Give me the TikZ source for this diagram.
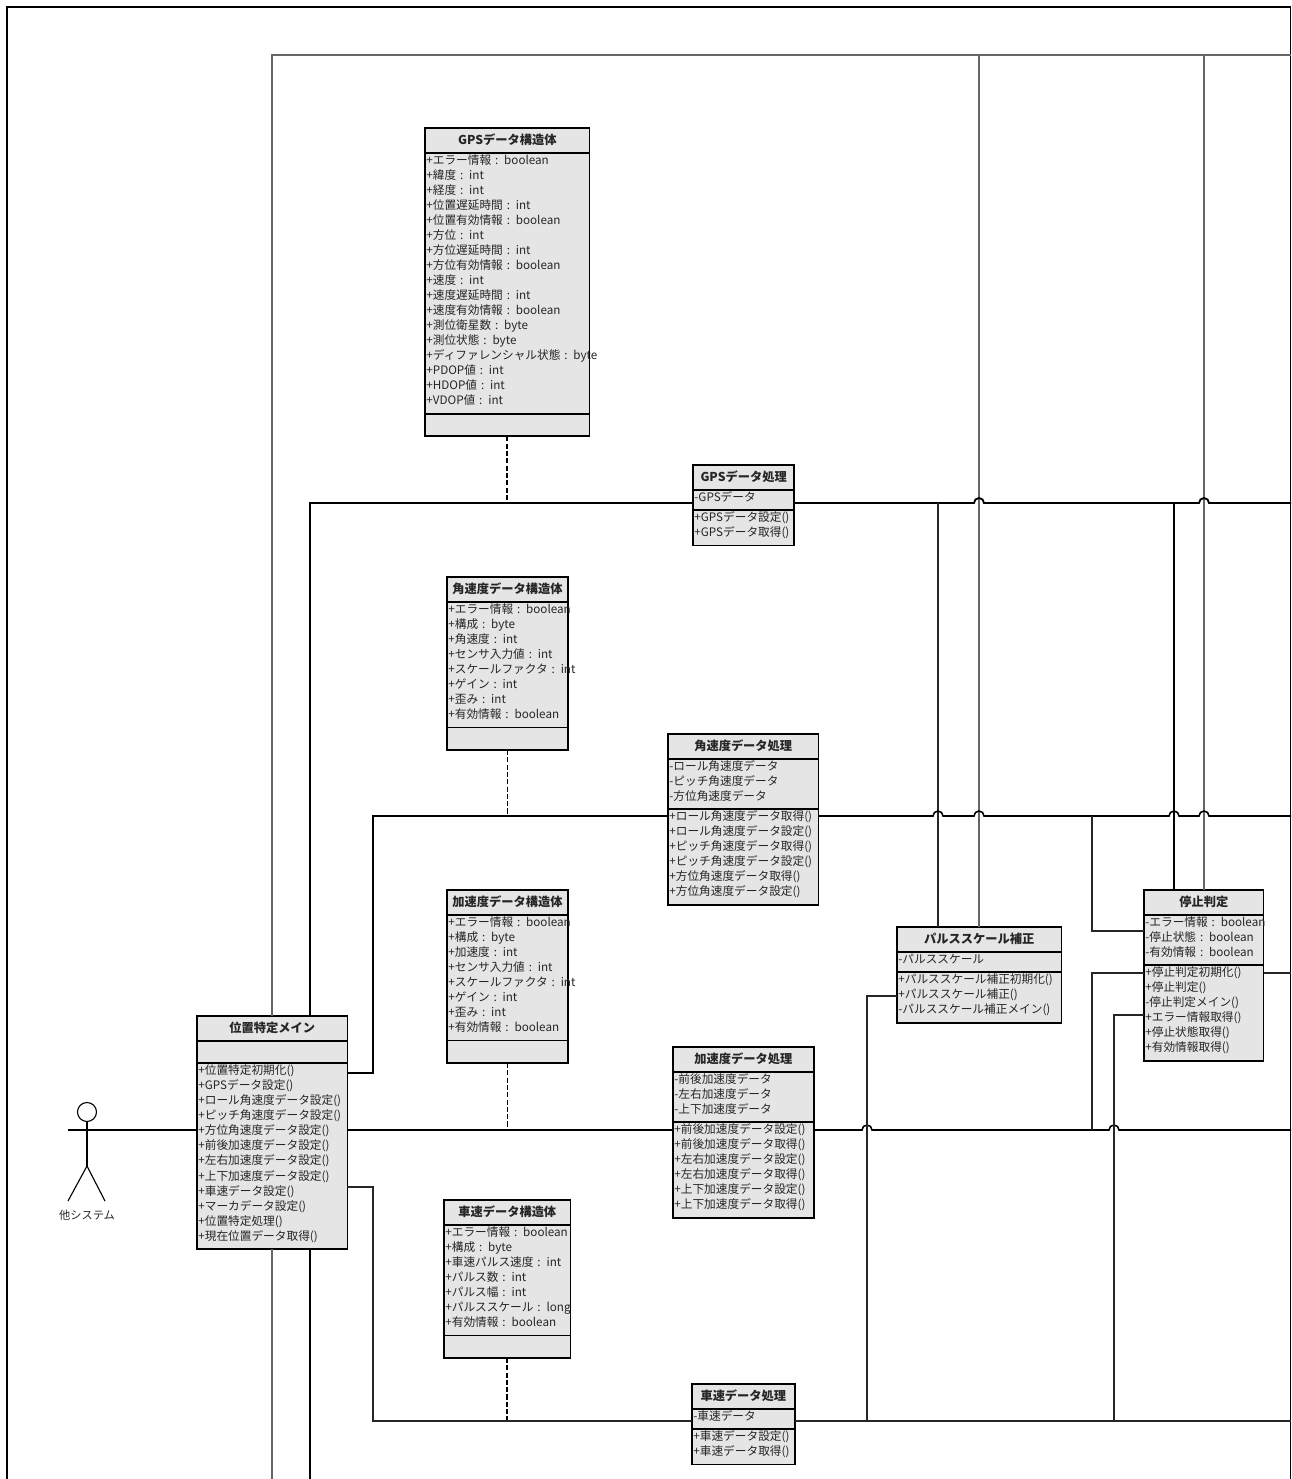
\documentclass[tikz,border=0pt]{standalone}
\usepackage{fontspec}
\setmainfont{Noto Sans CJK JP}
\usetikzlibrary{positioning,shapes.multipart}
\newcommand{\classtitle}[1]{\rule[-5.4pt]{0pt}{16.3pt}\hspace*{\fill}{\fontsize{8.7}{10.7}\selectfont\bfseries #1}\hspace*{\fill}}
\newcommand{\classempty}{\rule{0pt}{14.7pt}}
\newcommand{\rowend}{\rule[-5.7pt]{0pt}{1pt}}
\newcommand{\longrow}[1]{\makebox[0pt][l]{#1}}
\tikzset{
  umlclass/.style={draw=black,line width=1.3pt,fill=black!10,text=black!85,rectangle split,rectangle split parts=3,anchor=north west,align=left,inner xsep=1pt,inner ysep=0pt,outer sep=0pt,font=\fontsize{8.3}{10.7}\selectfont},
  actorline/.style={line width=0.8pt,black},
  assoc/.style={line width=1.1pt,black},
  assocthin/.style={line width=0.9pt,black!85},
  assocthick/.style={line width=1.3pt,black},
  depline/.style={line width=0.9pt,black!60},
  dataline/.style={line width=1.3pt,black,dash pattern=on 3.6pt off 1.6pt},
}
\begin{document}
\begin{tikzpicture}[x=0.025cm,y=-0.025cm]
\useasboundingbox (0,0) rectangle (1291,1479);
\fill[white] (0,0) rectangle (1291,1479);
\draw[line width=1pt] (7,1479) -- (7,7) -- (1290.5,7) -- (1290.5,1479);

% classes
\node[umlclass,text width=115pt] (gpsdata) at (425,128) {\classtitle{GPSデータ構造体}
\nodepart{two}\strut+エラー情報 : boolean\\+緯度 : int\\+経度 : int\\+位置遅延時間 : int\\+位置有効情報 : boolean\\+方位 : int\\+方位遅延時間 : int\\+方位有効情報 : boolean\\+速度 : int\\+速度遅延時間 : int\\+速度有効情報 : boolean\\+測位衛星数 : byte\\+測位状態 : byte\\\longrow{+ディファレンシャル状態 : byte}\\+PDOP値 : int\\+HDOP値 : int\\+VDOP値 : int\rowend
\nodepart{three}\classempty};
\node[umlclass,text width=70pt] (gpsproc) at (693,465) {\classtitle{GPSデータ処理}
\nodepart{two}\strut -GPSデータ\rowend
\nodepart{three}\strut+GPSデータ設定()\\+GPSデータ取得()\rowend};
\node[umlclass,text width=84pt] (angdata) at (447,577) {\classtitle{角速度データ構造体}
\nodepart{two}\strut\longrow{+エラー情報 : boolean}\\+構成 : byte\\+角速度 : int\\+センサ入力値 : int\\\longrow{+スケールファクタ : int}\\+ゲイン : int\\+歪み : int\\+有効情報 : boolean\rowend
\nodepart{three}\classempty};
\node[umlclass,text width=105pt] (angproc) at (668,734) {\classtitle{角速度データ処理}
\nodepart{two}\strut -ロール角速度データ\\-ピッチ角速度データ\\-方位角速度データ\rowend
\nodepart{three}\strut+ロール角速度データ取得()\\+ロール角速度データ設定()\\+ピッチ角速度データ取得()\\+ピッチ角速度データ設定()\\+方位角速度データ取得()\\+方位角速度データ設定()\rowend};
\node[umlclass,text width=84pt] (accdata) at (447,890) {\classtitle{加速度データ構造体}
\nodepart{two}\strut\longrow{+エラー情報 : boolean}\\+構成 : byte\\+加速度 : int\\+センサ入力値 : int\\\longrow{+スケールファクタ : int}\\+ゲイン : int\\+歪み : int\\+有効情報 : boolean\rowend
\nodepart{three}\classempty};
\node[umlclass,text width=98pt] (accproc) at (673,1047) {\classtitle{加速度データ処理}
\nodepart{two}\strut -前後加速度データ\\-左右加速度データ\\-上下加速度データ\rowend
\nodepart{three}\strut+前後加速度データ設定()\\+前後加速度データ取得()\\+左右加速度データ設定()\\+左右加速度データ取得()\\+上下加速度データ設定()\\+上下加速度データ取得()\rowend};
\node[umlclass,text width=88pt] (spddata) at (444,1200) {\classtitle{車速データ構造体}
\nodepart{two}\strut+エラー情報 : boolean\\+構成 : byte\\+車速パルス速度 : int\\+パルス数 : int\\+パルス幅 : int\\\longrow{+パルススケール : long}\\+有効情報 : boolean\rowend
\nodepart{three}\classempty};
\node[umlclass,text width=71pt] (spdproc) at (692,1384) {\classtitle{車速データ処理}
\nodepart{two}\strut -車速データ\rowend
\nodepart{three}\strut+車速データ設定()\\+車速データ取得()\rowend};
\node[umlclass,text width=115pt] (pulsefix) at (897,927) {\classtitle{パルススケール補正}
\nodepart{two}\strut -パルススケール\rowend
\nodepart{three}\strut+パルススケール補正初期化()\\+パルススケール補正()\\-パルススケール補正メイン()\rowend};
\node[umlclass,text width=83pt] (stopjudge) at (1144,890) {\classtitle{停止判定}
\nodepart{two}\strut\longrow{-エラー情報 : boolean}\\-停止状態 : boolean\\-有効情報 : boolean\rowend
\nodepart{three}\strut+停止判定初期化()\\+停止判定()\\-停止判定メイン()\\+エラー情報取得()\\+停止状態取得()\\+有効情報取得()\rowend};
\node[umlclass,text width=105pt] (mainpos) at (197,1016) {\classtitle{位置特定メイン}
\nodepart{two}\classempty
\nodepart{three}\strut+位置特定初期化()\\+GPSデータ設定()\\+ロール角速度データ設定()\\+ピッチ角速度データ設定()\\+方位角速度データ設定()\\+前後加速度データ設定()\\+左右加速度データ設定()\\+上下加速度データ設定()\\+車速データ設定()\\+マーカデータ設定()\\+位置特定処理()\\+現在位置データ取得()\rowend};

% actor
\node[circle,draw,line width=0.8pt,minimum size=13.5pt,inner sep=0pt] (actorhead) at (87,1112) {};
\node[font=\fontsize{8}{9}\selectfont,text=black!85,inner sep=0pt] (actorname) at (87,1215) {他システム};
\coordinate (actorhip) at (87,1166);
\coordinate (actorlegl) at (68,1201);
\coordinate (actorlegr) at (105,1201);
\draw[actorline] (actorhead.south) -- (actorhip);
\draw[actorline] (actorlegl) -- (actorhip) -- (actorlegr);

% connector levels
\coordinate (rowgps) at (310,503);
\coordinate (rowang) at (373,816);
\coordinate (rowacc) at (68,1130);
\coordinate (rowspd) at (373,1421);
\coordinate (rowdep) at (272,55);
\coordinate (endgps) at (1291,503);
\coordinate (endang) at (1291,816);
\coordinate (endacc) at (1291,1130);
\coordinate (endspd) at (1291,1421);
\coordinate (enddep) at (1291,55);

% dependency lines
\draw[depline] (mainpos.north -| rowdep) -- (rowdep) -- (enddep);
\coordinate (mainlow) at (272,1479);
\draw[depline] (mainpos.south -| mainlow) -- (mainlow);
\coordinate (deptopa) at (979,55);
\coordinate (deptopb) at (1204,55);
\draw[depline] (deptopa) -- (pulsefix.north -| deptopa);
\draw[depline] (deptopb) -- (stopjudge.north -| deptopb);

% data links
\draw[dataline] (gpsdata.south) -- (gpsdata.south |- rowgps);
\draw[dataline] (angdata.south) -- (angdata.south |- rowang);
\draw[dataline] (accdata.south) -- (accdata.south |- rowacc);
\draw[dataline] (spddata.south) -- (spddata.south |- rowspd);

% main lines
\draw[assocthick] (mainpos.north -| rowgps) -- (rowgps) -- (gpsproc.west |- rowgps);
\draw[assocthick] (gpsproc.east |- rowgps) -- (974,503) arc[start angle=180,end angle=360,radius=5] -- (1199,503) arc[start angle=180,end angle=360,radius=5] -- (endgps);
\coordinate (mainlowb) at (310,1479);
\draw[assocthick] (mainpos.south -| mainlowb) -- (mainlowb);
\coordinate (pulsetop) at (938,503);
\coordinate (stoptop) at (1174,503);
\draw[assocthin] (pulsetop) -- (pulsefix.north -| pulsetop);
\draw[assocthick] (stoptop) -- (stopjudge.north -| stoptop);

\coordinate (mainang) at (373,1073);
\draw[assoc] (mainpos.east |- mainang) -- (mainang) -- (rowang) -- (angproc.west |- rowang);
\draw[assoc] (angproc.east |- rowang) -- (933,816) arc[start angle=180,end angle=360,radius=5] -- (974,816) arc[start angle=180,end angle=360,radius=5] -- (1169,816) arc[start angle=180,end angle=360,radius=5] -- (1199,816) arc[start angle=180,end angle=360,radius=5] -- (endang);
\coordinate (stopfork) at (1092,816);
\coordinate (stopforkb) at (1092,931);
\draw[assocthin] (stopfork) -- (stopforkb) -- (stopjudge.west |- stopforkb);

\draw[assoc] (rowacc) -- (mainpos.west |- rowacc);
\draw[assoc] (mainpos.east |- rowacc) -- (accproc.west |- rowacc);
\draw[assoc] (accproc.east |- rowacc) -- (862,1130) arc[start angle=180,end angle=360,radius=5] -- (1109,1130) arc[start angle=180,end angle=360,radius=5] -- (endacc);
\coordinate (accfork) at (1092,1130);
\coordinate (accforkb) at (1092,973);
\draw[assocthin] (accfork) -- (accforkb) -- (stopjudge.west |- accforkb);
\coordinate (stopout) at (1291,973);
\draw[assocthin] (stopjudge.east |- stopout) -- (stopout);

\coordinate (mainspd) at (373,1187);
\draw[assocthin] (mainpos.east |- mainspd) -- (mainspd) -- (rowspd) -- (spdproc.west |- rowspd);
\draw[assocthin] (spdproc.east |- rowspd) -- (endspd);
\coordinate (pulsebend) at (867,996);
\coordinate (pulselow) at (867,1421);
\draw[assocthin] (pulsefix.west |- pulsebend) -- (pulsebend) -- (pulselow);
\coordinate (stopbend) at (1114,1015);
\coordinate (stoplow) at (1114,1421);
\draw[assocthin] (stopjudge.west |- stopbend) -- (stopbend) -- (stoplow);
\end{tikzpicture}
\end{document}
